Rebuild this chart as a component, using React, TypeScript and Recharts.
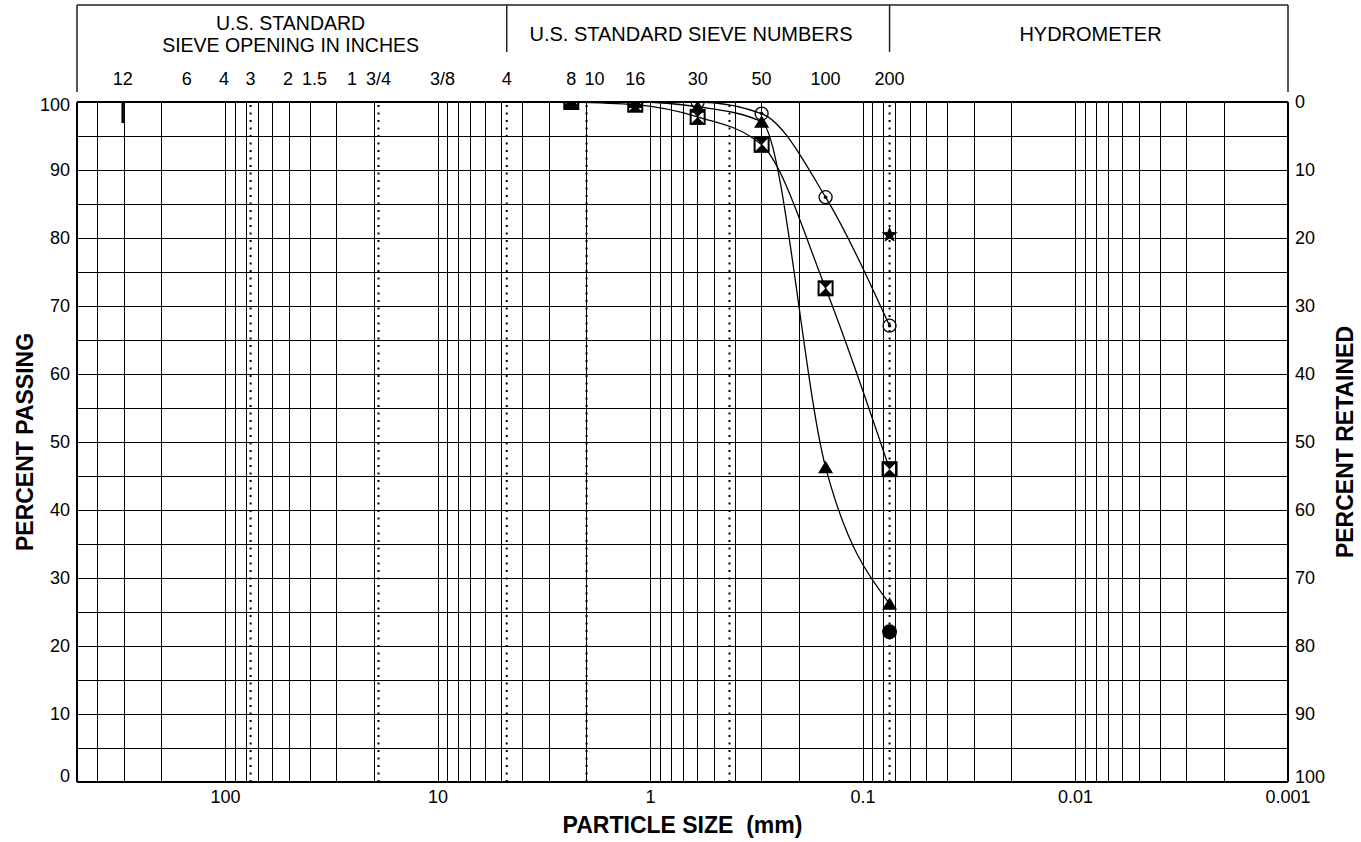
import React from "react";
import { ComposedChart, Line, XAxis, YAxis, CartesianGrid, ReferenceLine } from "recharts";

const FONT = "'Liberation Sans', Arial, Helvetica, sans-serif";

// particle size (mm) of the sieves used: #8, #16, #30, #50, #100, #200
const sieveSizes = [2.36, 1.18, 0.6, 0.3, 0.15, 0.075];
// percent passing per sample
const circleDotPassing = [100, 100, 100, 98.3, 86.0, 67.1];
const trianglePassing = [100, 100, 99.3, 97.1, 46.3, 26.2];
const hourglassPassing = [100, 99.6, 97.8, 93.7, 72.6, 46.0];
const starSizes = [0.075];
const starPassing = [80.6];
const dotSizes = [0.075];
const dotPassing = [22.1];

// header sieve labels
const inchLabels = ["12", "6", "4", "3", "2", "1.5", "1", "3/4", "3/8"];
const inchSizes = [304.8, 152.4, 101.6, 76.2, 50.8, 38.1, 25.4, 19.05, 9.525];
const sieveNoLabels = ["4", "8", "10", "16", "30", "50", "100", "200"];
const sieveNoSizes = [4.75, 2.36, 2.0, 1.18, 0.6, 0.3, 0.15, 0.075];

// header sections
const sectionEdges = [500, 4.75, 0.075, 0.001];
const sectionTitleSizes = [49.4, 0.645, 0.0085];
const sectionTitles = [
  ["U.S. STANDARD", "SIEVE OPENING IN INCHES"],
  ["U.S. STANDARD SIEVE NUMBERS"],
  ["HYDROMETER"],
];

// dotted soil-class boundaries (3", 3/4", #4, #10, #40, #200)
const boundarySizes = [76.2, 19.05, 4.75, 2.0, 0.425, 0.075];

const xTicks = [100, 10, 1, 0.1, 0.01, 0.001];
const xTickLabels = ["100", "10", "1", "0.1", "0.01", "0.001"];
const pctTicks = [0, 10, 20, 30, 40, 50, 60, 70, 80, 90, 100];
const pctGrid = [0, 5, 10, 15, 20, 25, 30, 35, 40, 45, 50, 55, 60, 65, 70, 75, 80, 85, 90, 95, 100];
const decades = [0.001, 0.01, 0.1, 1, 10, 100];
const sizeGrid = decades
  .flatMap((d) => [1, 2, 3, 4, 5, 6, 7, 8, 9].map((m) => +(m * d).toPrecision(3)))
  .filter((v) => v < 500);

const toRows = (sizes: number[], pcts: number[]) => sizes.map((size, i) => ({ size, pct: pcts[i] }));
const circleRows = toRows(sieveSizes, circleDotPassing);
const triangleRows = toRows(sieveSizes, trianglePassing);
const hourglassRows = toRows(sieveSizes, hourglassPassing);
const starRows = toRows(starSizes, starPassing);
const dotRows = toRows(dotSizes, dotPassing);

type TopInfo = { label?: string; edge?: "outer" | "inner"; first?: boolean; title?: string[] };
const topInfo = new Map<number, TopInfo>();
const addInfo = (v: number, info: TopInfo) => topInfo.set(v, { ...(topInfo.get(v) || {}), ...info });
inchSizes.forEach((v, i) => addInfo(v, { label: inchLabels[i] }));
sieveNoSizes.forEach((v, i) => addInfo(v, { label: sieveNoLabels[i] }));
sectionEdges.forEach((v, i) =>
  addInfo(v, { edge: i === 0 || i === sectionEdges.length - 1 ? "outer" : "inner", first: i === 0 })
);
sectionTitleSizes.forEach((v, i) => addInfo(v, { title: sectionTitles[i] }));
const topTicks = Array.from(topInfo.keys());

const TopTick = (props: any) => {
  const { x, y, payload } = props;
  const w = typeof props.width === "number" ? props.width : 1211;
  const info = topInfo.get(payload.value) || {};
  const stroke = "#222";
  // "10" sits right next to "8", so it is set to the right of its line
  const crowded = info.label === "10";
  return (
    <g>
      {info.edge === "outer" && <line x1={x} x2={x} y1={y - 97} y2={y - 10} stroke={stroke} strokeWidth={1.5} />}
      {info.edge === "outer" && info.first && (
        <line x1={x} x2={x + w} y1={y - 97} y2={y - 97} stroke={stroke} strokeWidth={1.5} />
      )}
      {info.edge === "inner" && <line x1={x} x2={x} y1={y - 97} y2={y - 50} stroke={stroke} strokeWidth={1.5} />}
      {info.label && (
        <text
          x={crowded ? x - 2 : x}
          y={y - 17}
          textAnchor={crowded ? "start" : "middle"}
          fontSize={18}
          fill="#000"
        >
          {info.label}
        </text>
      )}
      {info.title &&
        (info.title.length === 2 ? (
          <text x={x} textAnchor="middle" fontSize={19.5} fill="#000">
            <tspan x={x} y={y - 72}>{info.title[0]}</tspan>
            <tspan x={x} y={y - 50.5}>{info.title[1]}</tspan>
          </text>
        ) : (
          <text x={x} y={y - 61} textAnchor="middle" fontSize={20} fill="#000">
            {info.title[0]}
          </text>
        ))}
    </g>
  );
};

const BottomTick = (props: any) => {
  const { x, y, payload } = props;
  const i = xTicks.indexOf(payload.value);
  return (
    <text x={x} y={y} dy="0.716em" textAnchor="middle" fontSize={18} fill="#000">
      {xTickLabels[i]}
    </text>
  );
};

const LeftTick = (props: any) => {
  const { x, y, payload } = props;
  const shift = payload.value === 100 ? 3 : payload.value === 0 ? -6 : 0;
  return (
    <text x={x} y={y + shift} dy="0.355em" textAnchor="end" fontSize={18} fill="#000">
      {payload.value}
    </text>
  );
};

const RightTick = (props: any) => {
  const { x, y, payload } = props;
  const shift = payload.value === 100 ? -5 : 0;
  return (
    <text x={x} y={y + shift} dy="0.355em" textAnchor="start" fontSize={18} fill="#000">
      {payload.value}
    </text>
  );
};

const CircleDot = (p: any) => (
  <g key={`c-${p.index}`}>
    <circle cx={p.cx} cy={p.cy} r={6.5} fill="none" stroke="#000" strokeWidth={1.3} />
    <circle cx={p.cx} cy={p.cy} r={1.8} fill="#000" />
  </g>
);

const Triangle = (p: any) => (
  <polygon
    key={`t-${p.index}`}
    points={`${p.cx},${p.cy - 6.5} ${p.cx + 7.5},${p.cy + 6} ${p.cx - 7.5},${p.cy + 6}`}
    fill="#000"
  />
);

const Hourglass = (p: any) => {
  const h = 7;
  const { cx, cy } = p;
  return (
    <g key={`h-${p.index}`}>
      <rect x={cx - h} y={cy - h} width={h * 2} height={h * 2} fill="none" stroke="#000" strokeWidth={2} />
      <polygon points={`${cx - h},${cy - h} ${cx + h},${cy - h} ${cx},${cy}`} fill="#000" />
      <polygon points={`${cx - h},${cy + h} ${cx + h},${cy + h} ${cx},${cy}`} fill="#000" />
    </g>
  );
};

const Star = (p: any) => {
  const pts: string[] = [];
  for (let k = 0; k < 10; k++) {
    const r = k % 2 === 0 ? 8.5 : 3.6;
    const a = -Math.PI / 2 + (k * Math.PI) / 5;
    pts.push(`${p.cx + r * Math.cos(a)},${p.cy + 1 + r * Math.sin(a)}`);
  }
  return <polygon key={`s-${p.index}`} points={pts.join(" ")} fill="#000" />;
};

const FilledDot = (p: any) => <circle key={`f-${p.index}`} cx={p.cx} cy={p.cy} r={7.5} fill="#000" />;

const titleStyle = { fontSize: 23, fontWeight: 700, fill: "#000" } as const;

export default function App() {
  return (
    <div style={{ position: "absolute", left: 0, top: 0, width: 1361, height: 842, background: "#fff" }}>
      <ComposedChart
        width={1361}
        height={842}
        margin={{ top: 5, right: 0, bottom: 0, left: 0 }}
        style={{ fontFamily: FONT }}
      >
        <CartesianGrid
          stroke="#000"
          strokeWidth={1}
          shapeRendering="crispEdges"
          verticalValues={sizeGrid}
          horizontalValues={pctGrid}
        />
        <XAxis
          dataKey="size"
          type="number"
          scale="log"
          domain={[0.001, 500]}
          reversed
          allowDataOverflow
          ticks={xTicks}
          interval={0}
          height={60}
          tickSize={0}
          tickMargin={8}
          tick={<BottomTick />}
          axisLine={{ stroke: "#000", strokeWidth: 2 }}
          label={{
            content: (p: any) => {
              const vb = p.viewBox || { x: 77, y: 782, width: 1211 };
              return (
                <text x={vb.x + vb.width / 2} y={vb.y + 51} textAnchor="middle" style={{ whiteSpace: "pre" }} {...titleStyle}>
                  PARTICLE SIZE  (mm)
                </text>
              );
            },
          }}
        />
        <XAxis
          xAxisId="top"
          orientation="top"
          dataKey="size"
          type="number"
          scale="log"
          domain={[0.001, 500]}
          reversed
          allowDataOverflow
          ticks={topTicks}
          interval={0}
          height={97}
          tickSize={0}
          tickMargin={0}
          tick={<TopTick />}
          axisLine={{ stroke: "#000", strokeWidth: 2 }}
        />
        <YAxis
          type="number"
          domain={[0, 100]}
          allowDataOverflow
          ticks={pctTicks}
          interval={0}
          width={77}
          tickSize={0}
          tickMargin={7}
          tick={<LeftTick />}
          axisLine={{ stroke: "#000", strokeWidth: 2 }}
          label={{
            content: (p: any) => {
              const vb = p.viewBox || { x: 0, y: 102, height: 680 };
              const cx = vb.x + 33;
              const cy = vb.y + vb.height / 2;
              return (
                <text x={cx} y={cy} textAnchor="middle" transform={`rotate(-90 ${cx} ${cy})`} {...titleStyle}>
                  PERCENT PASSING
                </text>
              );
            },
          }}
        />
        <YAxis
          yAxisId="r"
          orientation="right"
          type="number"
          domain={[0, 100]}
          allowDataOverflow
          reversed
          ticks={pctTicks}
          interval={0}
          width={73}
          tickSize={0}
          tickMargin={7}
          tick={<RightTick />}
          axisLine={{ stroke: "#000", strokeWidth: 2 }}
          label={{
            content: (p: any) => {
              const vb = p.viewBox || { x: 1288, y: 102, height: 680 };
              const cx = vb.x + 65;
              const cy = vb.y + vb.height / 2;
              return (
                <text x={cx} y={cy} textAnchor="middle" transform={`rotate(-90 ${cx} ${cy})`} {...titleStyle}>
                  PERCENT RETAINED
                </text>
              );
            },
          }}
        />
        {boundarySizes.map((s) => (
          <ReferenceLine key={s} x={s} stroke="#000" strokeWidth={2} strokeDasharray="2 5.5" />
        ))}
        <ReferenceLine
          segment={[
            { x: 304.8, y: 100 },
            { x: 304.8, y: 96.9 },
          ]}
          stroke="#000"
          strokeWidth={2.5}
        />
        <Line data={circleRows} dataKey="pct" type="monotone" stroke="#000" strokeWidth={1.3} dot={CircleDot} isAnimationActive={false} />
        <Line data={triangleRows} dataKey="pct" type="monotone" stroke="#000" strokeWidth={1.3} dot={Triangle} isAnimationActive={false} />
        <Line data={hourglassRows} dataKey="pct" type="monotone" stroke="#000" strokeWidth={1.3} dot={Hourglass} isAnimationActive={false} />
        <Line data={starRows} dataKey="pct" stroke="none" dot={Star} isAnimationActive={false} />
        <Line data={dotRows} dataKey="pct" stroke="none" dot={FilledDot} isAnimationActive={false} />
      </ComposedChart>
    </div>
  );
}
